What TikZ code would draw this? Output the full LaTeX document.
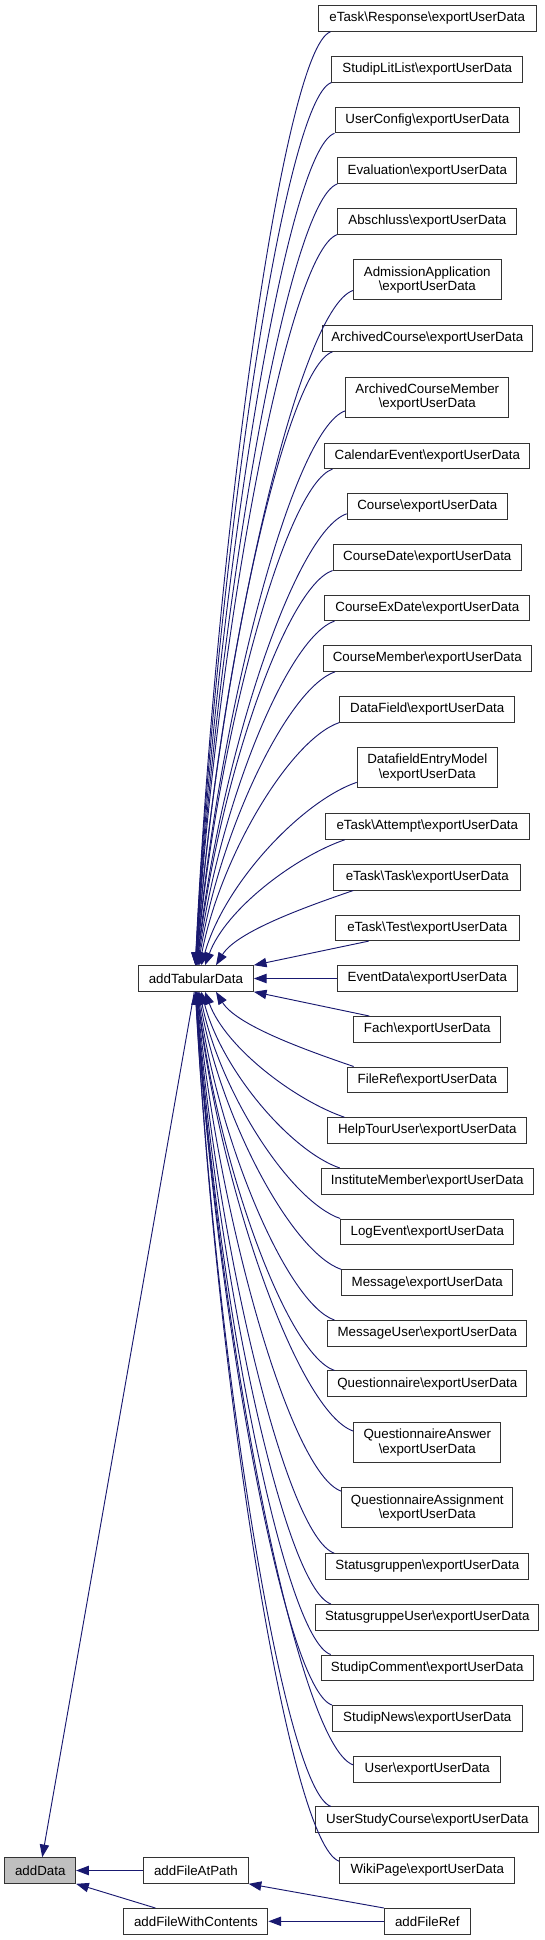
\documentclass[tikz,border=0pt]{standalone}
\usepackage{fontspec}
\setmainfont{Liberation Sans}
\usetikzlibrary{arrows.meta,calc}
\definecolor{midnight}{RGB}{25,25,112}
\definecolor{greyfill}{RGB}{191,191,191}
\newcommand\bksl{\textbackslash}
% #1 start, #2 anchor of addTabularData, #3 rank, #4 sign (1 = from above, -1 = from below)
\newcommand\fan[4]{\draw[edge] let \p1=#1, \p2=($(tab.#2)+({-1.9+22/#3},0)$) in (\p1) .. controls ({\x1-0.35*(\x1-\x2)},{\y1-#4*0.12*(\x1-\x2)}) and ({\x2+0.15*(\x1-\x2)},{\y2+0.45*(\y1-\y2)}) .. (\p2);}
\tikzset{
  box/.style={draw=black!80, line width=0.75pt, fill=white, inner sep=0pt, minimum height=19.2pt, align=center, font=\fontsize{10}{10.75}\selectfont},
  box2/.style={box, minimum height=30.2pt},
  wd/.style={minimum width=#1*0.75pt},
  edge/.style={draw=midnight, line width=0.7pt, -{Triangle[length=9.5pt,width=7pt]}}
}
\begin{document}
\begin{tikzpicture}[x=0.75pt,y=-0.75pt]
\useasboundingbox (0,0) rectangle (544,1940);
% right column
\node[box, wd=217.6] (n1) at (427.3,18.5) {eTask\bksl Response\bksl exportUserData};
\node[box, wd=190.9] (n2) at (427.3,69.3) {StudipLitList\bksl exportUserData};
\node[box, wd=184.6] (n3) at (427.3,120) {UserConfig\bksl exportUserData};
\node[box, wd=179.1] (n4) at (427.3,170.7) {Evaluation\bksl exportUserData};
\node[box, wd=179.1] (n5) at (427.3,221.3) {Abschluss\bksl exportUserData};
\node[box2, wd=147.5] (n6) at (427.3,279.8) {AdmissionApplication\\\bksl exportUserData};
\node[box, wd=210.6] (n7) at (427.3,338.5) {ArchivedCourse\bksl exportUserData};
\node[box2, wd=163.1] (n8) at (427.3,397.2) {ArchivedCourseMember\\\bksl exportUserData};
\node[box, wd=204.7] (n9) at (427.3,455.8) {CalendarEvent\bksl exportUserData};
\node[box, wd=160.3] (n10) at (427.3,506.5) {Course\bksl exportUserData};
\node[box, wd=188.4] (n11) at (427.3,557.2) {CourseDate\bksl exportUserData};
\node[box, wd=204.7] (n12) at (427.3,607.8) {CourseExDate\bksl exportUserData};
\node[box, wd=207.5] (n13) at (427.3,658.5) {CourseMember\bksl exportUserData};
\node[box, wd=175.2] (n14) at (427.3,709.3) {DataField\bksl exportUserData};
\node[box2, wd=140.2] (n15) at (427.3,767.7) {DatafieldEntryModel\\\bksl exportUserData};
\node[box, wd=204.4] (n16) at (427.3,826.5) {eTask\bksl Attempt\bksl exportUserData};
\node[box, wd=187] (n17) at (427.3,877.2) {eTask\bksl Task\bksl exportUserData};
\node[box, wd=184.2] (n18) at (427.3,927.8) {eTask\bksl Test\bksl exportUserData};
\node[box, wd=180] (n19) at (427.3,978.5) {EventData\bksl exportUserData};
\node[box, wd=147.1] (n20) at (427.3,1029.3) {Fach\bksl exportUserData};
\node[box, wd=160.3] (n21) at (427.3,1079.8) {FileRef\bksl exportUserData};
\node[box, wd=198.8] (n22) at (427.3,1130.5) {HelpTourUser\bksl exportUserData};
\node[box, wd=212] (n23) at (427.3,1181.3) {InstituteMember\bksl exportUserData};
\node[box, wd=173.2] (n24) at (427.3,1231.8) {LogEvent\bksl exportUserData};
\node[box, wd=171] (n25) at (427.3,1282.7) {Message\bksl exportUserData};
\node[box, wd=198.8] (n26) at (427.3,1333.3) {MessageUser\bksl exportUserData};
\node[box, wd=198.8] (n27) at (427.3,1383.7) {Questionnaire\bksl exportUserData};
\node[box2, wd=147.1] (n28) at (427.3,1442.7) {QuestionnaireAnswer\\\bksl exportUserData};
\node[box2, wd=171] (n29) at (427.3,1507.8) {QuestionnaireAssignment\\\bksl exportUserData};
\node[box, wd=203] (n30) at (427.3,1566.5) {Statusgruppen\bksl exportUserData};
\node[box, wd=223.1] (n31) at (427.3,1617.2) {StatusgruppeUser\bksl exportUserData};
\node[box, wd=212.3] (n32) at (427.3,1667.8) {StudipComment\bksl exportUserData};
\node[box, wd=189.8] (n33) at (427.3,1718.3) {StudipNews\bksl exportUserData};
\node[box, wd=147.1] (n34) at (427.3,1769.2) {User\bksl exportUserData};
\node[box, wd=223.1] (n35) at (427.3,1819.7) {UserStudyCourse\bksl exportUserData};
\node[box, wd=175.2] (n36) at (427.3,1870.5) {WikiPage\bksl exportUserData};
% left part
\node[box, wd=114.9] (tab) at (195.9,978.5) {addTabularData};
\node[box, wd=70.7, fill=greyfill] (data) at (40.25,1870.5) {addData};
\node[box, wd=104.5] (fap) at (195.9,1870.5) {addFileAtPath};
\node[box, wd=144] (fwc) at (195.9,1921.3) {addFileWithContents};
\node[box, wd=85.7] (fref) at (427.3,1921.3) {addFileRef};
% upper fan
\fan{($(n1.south west)+(12.5,0)$)}{north}{17}{1}
\fan{(n2.south west)}{north}{16}{1}
\fan{(n3.south west)}{north}{15}{1}
\fan{(n4.south west)}{north}{14}{1}
\fan{(n5.south west)}{north}{13}{1}
\fan{($(n6.south west)+(0,-10)$)}{north}{12}{1}
\fan{($(n7.south west)+(11,0)$)}{north}{11}{1}
\fan{($(n8.south west)+(0,-7)$)}{north}{10}{1}
\fan{($(n9.south west)+(8,0)$)}{north}{9}{1}
\fan{($(n10.south west)+(0,-6)$)}{north}{8}{1}
\fan{(n11.south west)}{north}{7}{1}
\fan{($(n12.south west)+(10,0)$)}{north}{6}{1}
\fan{($(n13.south west)+(12,0)$)}{north}{5}{1}
\fan{(n14.south west)}{north}{4}{1}
\fan{($(n15.south west)+(0,-6)$)}{north}{3}{1}
\fan{($(n16.south west)+(20,0)$)}{north}{2}{1}
\fan{($(n17.south west)+(20,0)$)}{north}{1}{1}
% straight ones
\draw[edge] ($(n18.south west)+(34,0)$) -- (tab.north east);
\draw[edge] (n19.west) -- (tab.east);
\draw[edge] ($(n20.north west)+(16,0)$) -- (tab.south east);
% lower fan
\fan{($(n21.north west)+(7,0)$)}{south}{1}{-1}
\fan{($(n22.north west)+(17,0)$)}{south}{2}{-1}
\fan{($(n23.north west)+(19,0)$)}{south}{3}{-1}
\fan{(n24.north west)}{south}{4}{-1}
\fan{(n25.north west)}{south}{5}{-1}
\fan{($(n26.north west)+(7,0)$)}{south}{6}{-1}
\fan{($(n27.north west)+(7,0)$)}{south}{7}{-1}
\fan{($(n28.north west)+(0,9)$)}{south}{8}{-1}
\fan{($(n29.north west)+(0,4)$)}{south}{9}{-1}
\fan{($(n30.north west)+(9,0)$)}{south}{10}{-1}
\fan{($(n31.north west)+(15.6,0)$)}{south}{11}{-1}
\fan{($(n32.north west)+(10,0)$)}{south}{12}{-1}
\fan{(n33.north west)}{south}{13}{-1}
\fan{($(n34.north west)+(0,9)$)}{south}{14}{-1}
\fan{($(n35.north west)+(15.6,0)$)}{south}{15}{-1}
\fan{($(n36.north west)+(0,4)$)}{south}{16}{-1}
% bottom edges
\draw[edge] ($(tab.south)+(-1.6,0)$) -- ($(data.north)+(2,0)$);
\draw[edge] (fap.west) -- (data.east);
\draw[edge] ($(fwc.north west)+(32,0)$) -- (data.south east);
\draw[edge] (fref.north west) -- (fap.south east);
\draw[edge] (fref.west) -- (fwc.east);
\end{tikzpicture}
\end{document}
